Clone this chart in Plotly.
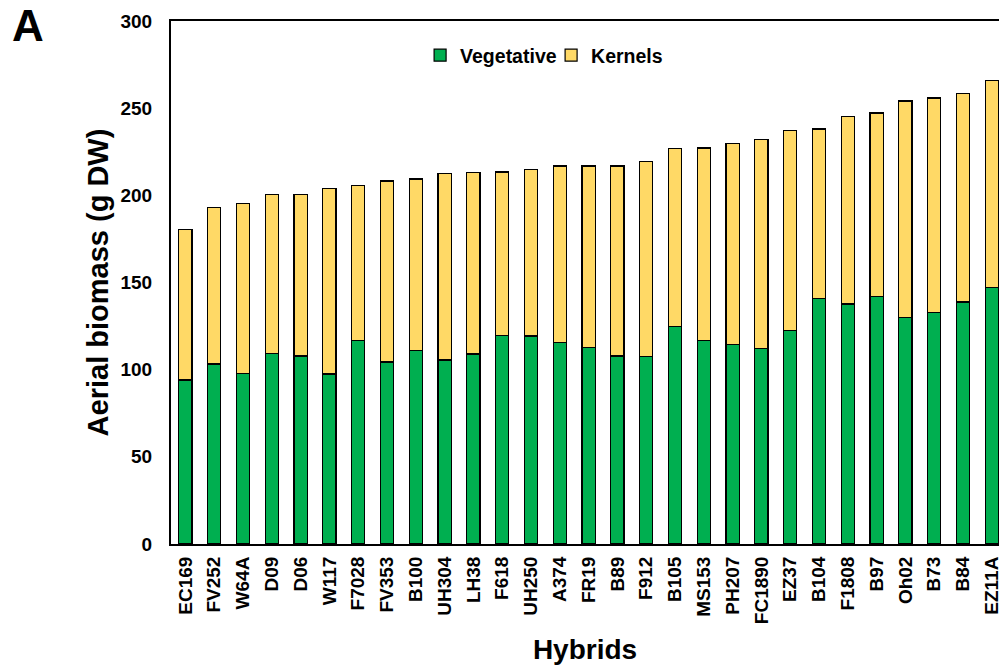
import plotly.graph_objects as go

hybrids = ["EC169", "FV252", "W64A", "D09", "D06", "W117", "F7028", "FV353", "B100",
           "UH304", "LH38", "F618", "UH250", "A374", "FR19", "B89", "F912", "B105",
           "MS153", "PH207", "FC1890", "EZ37", "B104", "F1808", "B97", "Oh02", "B73",
           "B84", "EZ11A"]
vegetative = [94.1, 103.3, 97.9, 109.4, 107.8, 97.5, 116.6, 104.4, 110.9,
              105.5, 109.0, 119.7, 119.3, 115.5, 112.8, 107.8, 107.4, 124.6,
              116.6, 114.3, 112.0, 122.4, 140.7, 137.7, 141.9, 130.0, 132.7,
              138.8, 147.2]
kernels = [86.4, 89.8, 97.5, 91.0, 92.6, 106.3, 89.2, 103.8, 98.5,
           106.9, 104.2, 93.7, 95.5, 101.3, 104.0, 109.0, 112.1, 102.4,
           110.6, 115.3, 120.1, 114.9, 97.4, 107.4, 105.3, 124.1, 123.1,
           119.8, 118.6]
y_ticks = [0, 50, 100, 150, 200, 250, 300]

FONT = "Liberation Sans, Arial, sans-serif"
W, H = 1002, 670
ML, MT, MR = 171, 21, 0
MB = H - 544
pw = W - ML - MR
ph = H - MT - MB

def px_x(p):
    return (p - ML) / pw

def px_y(p):
    return (H - MB - p) / ph

fig = go.Figure()
fig.add_trace(go.Bar(
    x=hybrids, y=vegetative, name="Vegetative",
    marker=dict(color="#00AF50", line=dict(color="#000000", width=1.2)),
))
fig.add_trace(go.Bar(
    x=hybrids, y=kernels, name="Kernels",
    marker=dict(color="#FFD966", line=dict(color="#000000", width=1.2)),
))

fig.update_layout(
    width=W, height=H,
    margin=dict(l=ML, r=MR, t=MT, b=MB, pad=0),
    barmode="stack", bargap=0.54,
    plot_bgcolor="white", paper_bgcolor="white",
    font=dict(family=FONT, color="black", size=19),
    legend=dict(
        orientation="h", x=px_x(421), y=px_y(55.5), xanchor="left", yanchor="middle",
        font=dict(family=FONT, size=19.5, weight="bold", color="black"),
        bgcolor="rgba(0,0,0,0)", entrywidth=86, entrywidthmode="pixels",
        traceorder="normal",
    ),
    xaxis=dict(
        range=[-0.5, 28.25], showline=True, linecolor="black", linewidth=2,
        mirror=True, ticks="", tickangle=-90, ticklabelstandoff=3,
        tickfont=dict(family=FONT, size=19, weight="bold", color="black"),
        showgrid=False, zeroline=False,
        title=dict(text="Hybrids", font=dict(family=FONT, size=28, weight="bold", color="black"),
                   standoff=16),
    ),
    yaxis=dict(
        range=[0, 300], tickvals=y_ticks, showline=True, linecolor="black", linewidth=2,
        ticks="", ticklabelstandoff=13,
        tickfont=dict(family=FONT, size=19, weight="bold", color="black"),
        showgrid=False, zeroline=False,
        title=dict(text="Aerial biomass (g DW)",
                   font=dict(family=FONT, size=29, weight="bold", color="black"),
                   standoff=3),
    ),
    annotations=[dict(
        text="A", xref="paper", yref="paper", x=px_x(9), y=px_y(25),
        xanchor="left", yanchor="middle", showarrow=False,
        font=dict(family=FONT, size=44, weight="bold", color="black"),
    )],
)

fig.write_html(
    "out.html",
    config={"displayModeBar": False},
    post_script="document.body.style.margin='0';document.body.style.overflow='hidden';",
)
